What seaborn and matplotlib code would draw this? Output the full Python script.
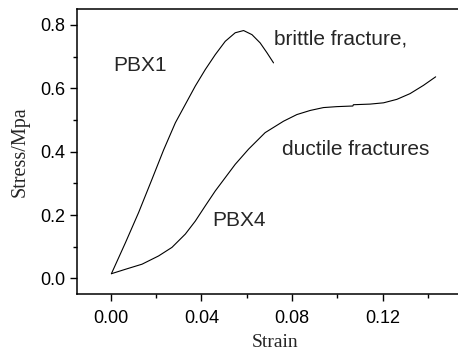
import numpy as np
import pandas as pd
import matplotlib
matplotlib.use("Agg")
import matplotlib.pyplot as plt
import seaborn as sns
from matplotlib.ticker import MultipleLocator

# PBX1 (brittle) stress-strain curve
pbx1_strain = [0.0003, 0.0065, 0.0123, 0.0182, 0.0233, 0.0285, 0.0329, 0.0373,
               0.0417, 0.0461, 0.0505, 0.0549, 0.0586, 0.0623, 0.0659, 0.0689, 0.0718]
pbx1_stress = [0.015, 0.113, 0.208, 0.313, 0.405, 0.491, 0.549, 0.607,
               0.659, 0.706, 0.748, 0.775, 0.782, 0.769, 0.743, 0.712, 0.680]

# PBX4 (ductile) stress-strain curve
pbx4_strain = [0.0003, 0.0065, 0.0138, 0.0211, 0.027, 0.0329, 0.0373, 0.0417, 0.0461,
               0.0505, 0.0549, 0.0608, 0.0681, 0.0762, 0.0821, 0.088, 0.0938, 0.0997,
               0.1068, 0.1070, 0.1144, 0.1203, 0.1262, 0.132, 0.1379, 0.1433]
pbx4_stress = [0.015, 0.029, 0.045, 0.071, 0.098, 0.140, 0.181, 0.229, 0.276,
               0.318, 0.360, 0.408, 0.460, 0.496, 0.517, 0.530, 0.539, 0.542,
               0.544, 0.548, 0.550, 0.554, 0.565, 0.583, 0.609, 0.636]

x_ticks = [0.00, 0.04, 0.08, 0.12]
y_ticks = [0.0, 0.2, 0.4, 0.6, 0.8]


def main() -> None:
    sns.set_style("ticks")
    plt.rcParams['font.family'] = ['Liberation Sans', 'DejaVu Sans']

    df = pd.concat([
        pd.DataFrame({'Strain': pbx1_strain, 'Stress': pbx1_stress, 'Sample': 'PBX1'}),
        pd.DataFrame({'Strain': pbx4_strain, 'Stress': pbx4_stress, 'Sample': 'PBX4'}),
    ])

    fig = plt.figure(figsize=(4.58, 3.51), dpi=100)
    ax = fig.add_axes([0.1675, 0.1615, 0.8664, 0.8129])

    for name, grp in df.groupby('Sample'):
        sns.lineplot(data=grp, x='Strain', y='Stress', sort=False, color='black',
                     linewidth=0.8, ax=ax, legend=False)

    ax.set_xlim(-0.015, 0.16)
    ax.set_ylim(-0.05, 0.85)
    ax.set_xticks(x_ticks)
    ax.set_xticklabels([f"{v:.2f}" for v in x_ticks])
    ax.set_yticks(y_ticks)
    ax.set_yticklabels([f"{v:.1f}" for v in y_ticks])
    ax.xaxis.set_minor_locator(MultipleLocator(0.02))
    ax.yaxis.set_minor_locator(MultipleLocator(0.1))
    ax.tick_params(which='major', direction='out', length=5, width=1, labelsize=13,
                   colors='black', pad=3)
    ax.tick_params(which='minor', direction='out', length=3, width=1, colors='black')
    ax.tick_params(axis='x', which='major', pad=6)
    for s in ax.spines.values():
        s.set_color('black')
        s.set_linewidth(1.1)

    ax.set_xlabel("Strain", family='Liberation Serif', fontsize=14, labelpad=5)
    ax.set_ylabel("Stress/Mpa", family='Liberation Serif', fontsize=14.5, labelpad=8)

    ax.text(0.0012, 0.653, "PBX1", fontsize=15)
    ax.text(0.0721, 0.738, "brittle fracture,", fontsize=15)
    ax.text(0.0755, 0.388, "ductile fractures", fontsize=15)
    ax.text(0.0447, 0.166, "PBX4", fontsize=15)

    fig.savefig("out.png", dpi=100)


if __name__ == "__main__":
    main()
